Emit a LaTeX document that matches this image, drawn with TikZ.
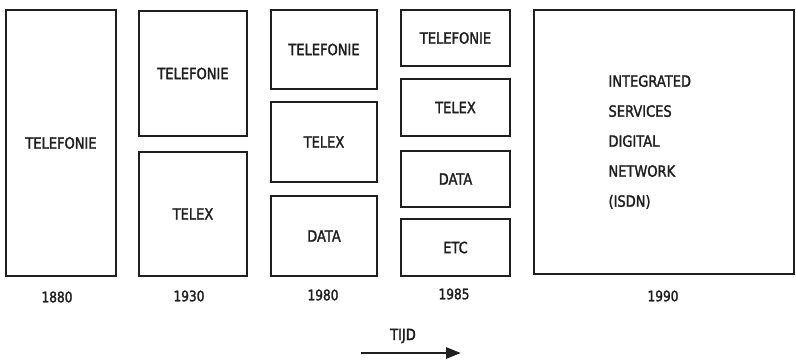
\documentclass[tikz,border=0pt]{standalone}
\usepackage{fontspec}
\setmainfont{DejaVu Sans}[FakeStretch=0.84,FakeBold=1.8]
\usetikzlibrary{arrows.meta}
\begin{document}
\begin{tikzpicture}[x=1pt,y=-1pt,
  box/.style={draw=black!88, line width=1.6pt, inner sep=0pt,
    text=black!88, font=\fontsize{15.5}{18}\selectfont},
  year/.style={text=black!88, font=\fontsize{14.5}{16}\selectfont},
  label/.style={text=black!88, font=\fontsize{15.5}{18}\selectfont},
]
\useasboundingbox (0,0) rectangle (796,362);

% 1880
\node[box, minimum width=110pt, minimum height=266pt] (a1) at (61,143) {TELEFONIE};
% 1930
\node[box, minimum width=108pt, minimum height=125pt] (b1) at (193,73.5) {TELEFONIE};
\node[box, minimum width=108pt, minimum height=124pt] (b2) at (193,214) {TELEX};
% 1980
\node[box, minimum width=106pt, minimum height=79pt] (c1) at (324,49.5) {TELEFONIE};
\node[box, minimum width=106pt, minimum height=80pt] (c2) at (324,142) {TELEX};
\node[box, minimum width=106pt, minimum height=80pt] (c3) at (324,236) {DATA};
% 1985
\node[box, minimum width=109pt, minimum height=56pt] (d1) at (455.5,38) {TELEFONIE};
\node[box, minimum width=109pt, minimum height=57pt] (d2) at (455.5,107.5) {TELEX};
\node[box, minimum width=109pt, minimum height=56pt] (d3) at (455.5,179) {DATA};
\node[box, minimum width=109pt, minimum height=57pt] (d4) at (455.5,247.5) {ETC};
% 1990
\node[box, minimum width=260pt, minimum height=264pt] (e1) at (664,142) {};
\node[label, anchor=west, align=left, font=\fontsize{15.5}{30}\selectfont] (isdn) at (605,142)
  {INTEGRATED\\SERVICES\\DIGITAL\\NETWORK\\(ISDN)};

% years
\node[year] (y1) at (57,297) {1880};
\node[year] (y2) at (189,296) {1930};
\node[year] (y3) at (323,295) {1980};
\node[year] (y4) at (454,294) {1985};
\node[year] (y5) at (663,296) {1990};

% time axis
\node[label] (tijd) at (403,336) {TIJD};
\coordinate (t0) at (361,353);
\coordinate (t1) at (461,353);
\draw[black!88, line width=2.8pt, -{Triangle[length=15pt,width=11pt]}] (t0) -- (t1);
\end{tikzpicture}
\end{document}
